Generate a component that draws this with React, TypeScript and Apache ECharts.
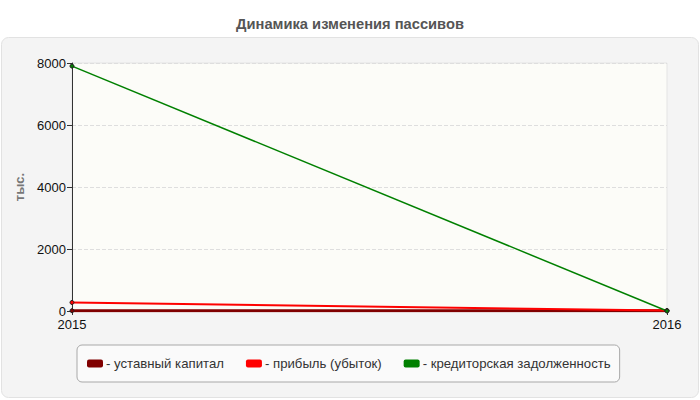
import React, { useEffect, useRef } from "react";
import * as echarts from "echarts";

const years = ["2015", "2016"];
const ustavnyi = [10, 10];
const pribyl = [275, 15];
const kreditor = [7900, 0];
const seriesNames = [
  "- уставный капитал",
  "- прибыль (убыток)",
  "- кредиторская задолженность",
];

export default function App() {
  const chartRef = useRef<HTMLDivElement>(null);

  useEffect(() => {
    if (!chartRef.current) return;
    const chart = echarts.init(chartRef.current, undefined, { renderer: "svg" });

    const font = "Liberation Sans, Arial, sans-serif";

    chart.setOption({
      animation: false,
      textStyle: { fontFamily: font },
      title: {
        text: "Динамика изменения пассивов",
        left: "center",
        top: 11,
        textStyle: { fontSize: 14.7, fontWeight: "bold", color: "#555", fontFamily: font },
      },
      graphic: [
        {
          type: "rect",
          z: -10,
          silent: true,
          shape: { x: 1.5, y: 37.5, width: 697, height: 360, r: 7 },
          style: { fill: "#f4f4f4", stroke: "#e2e2e2", lineWidth: 1 },
        },
      ],
      grid: {
        left: 72,
        right: 33,
        top: 63,
        bottom: 89,
        show: true,
        backgroundColor: "#fcfcf8",
        borderColor: "#e4e4e4",
        borderWidth: 1,
      },
      legend: {
        left: 77,
        top: 345,
        padding: [12, 9, 12, 10],
        itemGap: 22,
        itemWidth: 16,
        itemHeight: 8,
        icon: "roundRect",
        backgroundColor: "#fafafa",
        borderColor: "#a8a8a8",
        borderWidth: 1,
        borderRadius: 5,
        textStyle: { fontSize: 13.2, color: "#333", fontFamily: font, padding: [0, 0, 0, -2] },
        data: seriesNames,
      },
      xAxis: {
        type: "category",
        data: years,
        boundaryGap: false,
        axisLine: { lineStyle: { color: "#333", width: 1 } },
        axisTick: { show: true, length: 4, lineStyle: { color: "#333" } },
        axisLabel: { color: "#111", fontSize: 13, margin: 7, fontFamily: font },
        splitLine: { show: false },
      },
      yAxis: {
        type: "value",
        min: 0,
        max: 8000,
        interval: 2000,
        name: "тыс.",
        nameLocation: "middle",
        nameRotate: 90,
        nameGap: 46,
        nameTextStyle: { color: "#777", fontWeight: "bold", fontSize: 13, fontFamily: font },
        axisLine: { show: true, lineStyle: { color: "#333", width: 1 } },
        axisTick: { show: true, length: 5, lineStyle: { color: "#333" } },
        axisLabel: {
          color: "#111",
          fontSize: 13,
          margin: 6,
          fontFamily: font,
          formatter: (v: number) => String(v),
        },
        splitLine: { show: true, lineStyle: { color: "#dedede", type: "dashed" } },
      },
      series: [
        {
          name: seriesNames[0],
          type: "line",
          data: ustavnyi,
          color: "#800000",
          symbol: "circle",
          symbolSize: 4,
          lineStyle: { width: 3 },
          itemStyle: { borderColor: "#222" },
        },
        {
          name: seriesNames[1],
          type: "line",
          data: pribyl,
          color: "#ff0000",
          symbol: "circle",
          symbolSize: 4,
          lineStyle: { width: 2 },
          itemStyle: { borderColor: "#222" },
        },
        {
          name: seriesNames[2],
          type: "line",
          data: kreditor,
          color: "#008000",
          symbol: "circle",
          symbolSize: 4,
          lineStyle: { width: 1.5 },
          itemStyle: { borderColor: "#222" },
        },
      ],
    });

    return () => chart.dispose();
  }, []);

  return (
    <div
      ref={chartRef}
      style={{ position: "fixed", left: 0, top: 0, width: 700, height: 400, background: "#fff" }}
    />
  );
}
